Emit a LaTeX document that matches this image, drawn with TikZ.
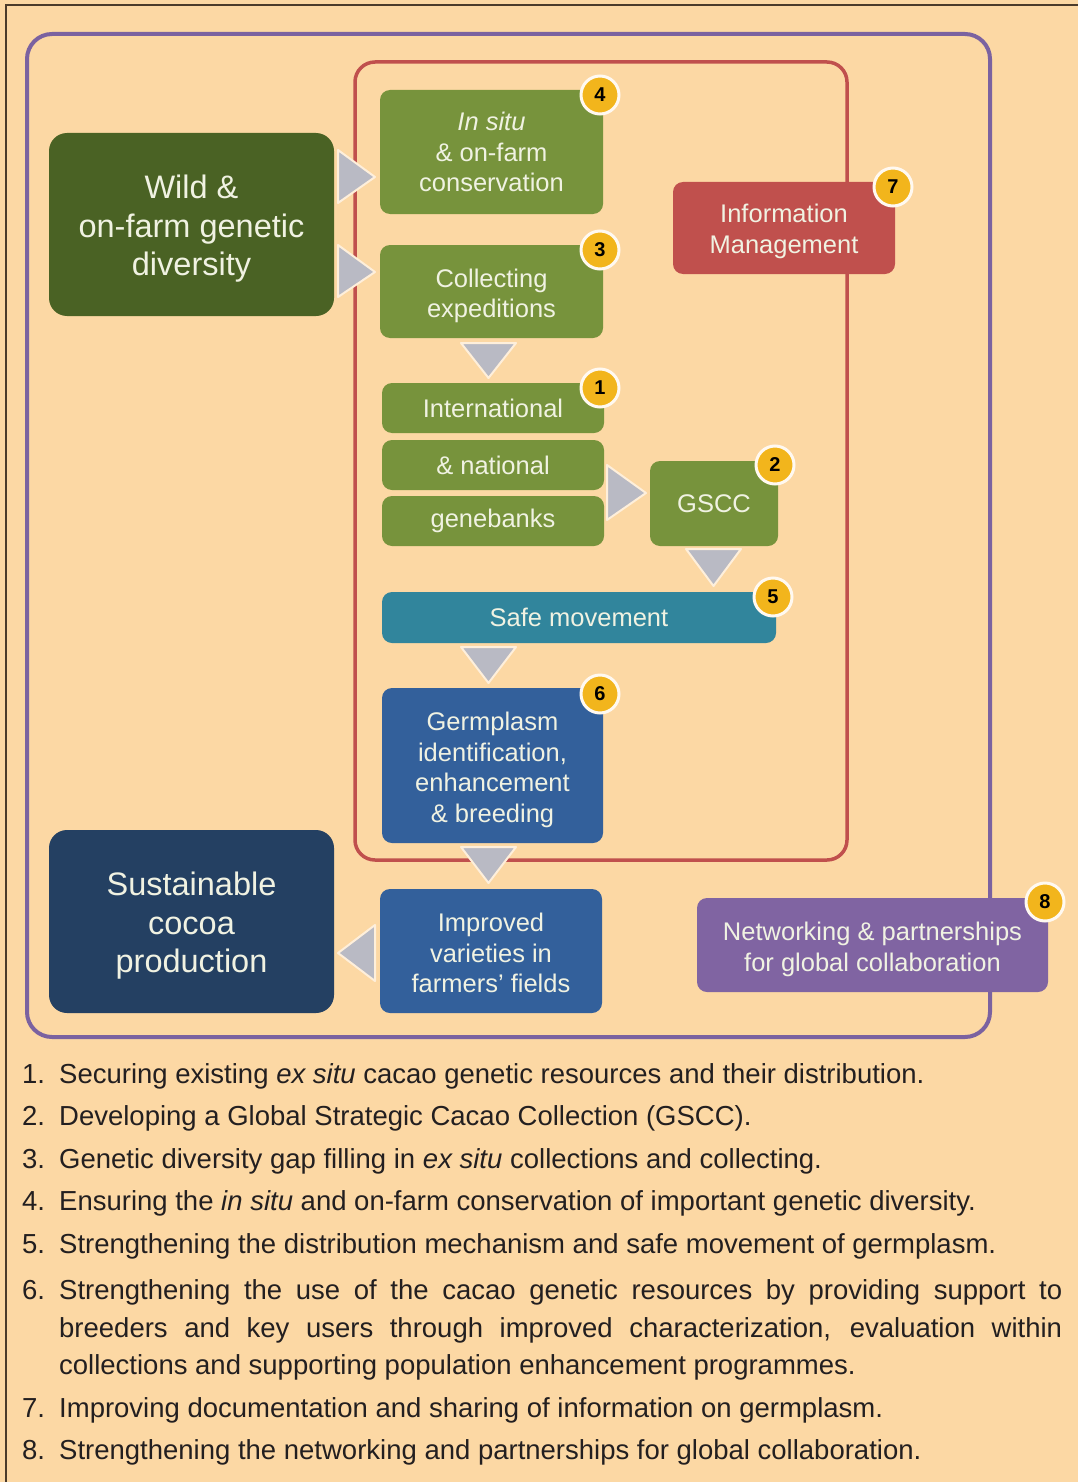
\documentclass[tikz,border=0pt]{standalone}
\usepackage{fontspec}
\setmainfont{Liberation Sans}
\usetikzlibrary{calc}
\definecolor{bg}{HTML}{FCD8A4}
\definecolor{frameline}{HTML}{4B3B2B}
\definecolor{purpleframe}{HTML}{7B62A0}
\definecolor{redframe}{HTML}{C0504D}
\definecolor{darkgreen}{HTML}{4A6224}
\definecolor{olive}{HTML}{77933C}
\definecolor{infored}{HTML}{C0504D}
\definecolor{teal}{HTML}{31859C}
\definecolor{midblue}{HTML}{33609B}
\definecolor{navy}{HTML}{244062}
\definecolor{netpurple}{HTML}{8064A2}
\definecolor{boxtext}{HTML}{F0F2E2}
\definecolor{trigray}{HTML}{B9BAC4}
\definecolor{badgeyellow}{HTML}{F2B51C}
\definecolor{listtext}{HTML}{231F20}
\newcommand\boxstrut[1]{\rule{0pt}{#1pt}}
\begin{document}
\begin{tikzpicture}[x=1pt,y=-1pt,
  box/.style={rounded corners=10pt, inner sep=0pt, align=center, text=boxtext,
    font=\fontsize{25.5}{30.5}\selectfont},
  bigbox/.style={box, rounded corners=18pt, font=\fontsize{32.5}{38.5}\selectfont},
  tri/.style={fill=trigray, draw=white!60!bg, line width=2pt, line join=round},
  badge/.style={circle, fill=badgeyellow, draw=white!85!bg, line width=3pt,
    minimum size=38pt, inner sep=0pt, font=\fontsize{20}{20}\selectfont\bfseries, text=black},
  item/.style={anchor=base west, inner sep=0pt, text=listtext, font=\fontsize{27.5}{32}\selectfont},
  frame/.style={rounded corners=25pt, line width=4pt}
]
\useasboundingbox (0,0) rectangle (1078,1482);
\fill[bg] (0,0) rectangle (1078,1482);
% outer thin frame (top and left)
\draw[frameline, line width=2pt] (6,1482) -- (6,5) -- (1078,5);

% frames
\draw[frame, purpleframe] (27,34) rectangle (990,1037);
\draw[frame, redframe, line width=3.5pt, rounded corners=20pt] (355,62) rectangle (847,860);

% boxes
\node[bigbox, fill=darkgreen, minimum width=285pt, minimum height=183pt] (wild) at (191.5,224.5) {\boxstrut{32}Wild \&\\on-farm genetic\\diversity};
\node[bigbox, fill=navy, minimum width=285pt, minimum height=183pt] (sust) at (191.5,921.5) {\boxstrut{32}Sustainable\\cocoa\\production};
\node[box, fill=olive, minimum width=223pt, minimum height=124pt] (insitu) at (491.5,152) {\textit{In situ}\\\& on-farm\\conservation};
\node[box, fill=olive, minimum width=223pt, minimum height=93pt] (coll) at (491.5,291.5) {\boxstrut{27}Collecting\\expeditions};
\node[box, fill=olive, minimum width=222pt, minimum height=50pt] (intl) at (493,408) {International};
\node[box, fill=olive, minimum width=222pt, minimum height=50pt] (natl) at (493,465) {\& national};
\node[box, fill=olive, minimum width=222pt, minimum height=50pt] (gene) at (493,521) {genebanks};
\node[box, fill=olive, minimum width=128pt, minimum height=85pt] (gscc) at (714,503.5) {GSCC};
\node[box, fill=teal, minimum width=394pt, minimum height=51pt] (safe) at (579,617.5) {Safe movement};
\node[box, fill=midblue, minimum width=221pt, minimum height=155pt] (germ) at (492.5,765.5) {\boxstrut{27}Germplasm\\identification,\\enhancement\\\& breeding};
\node[box, fill=midblue, minimum width=222pt, minimum height=124pt] (impr) at (491,951) {\boxstrut{23}Improved\\varieties in\\farmers' fields};
\node[box, fill=infored, minimum width=222pt, minimum height=92pt] (info) at (784,228) {\boxstrut{25}Information\\Management};
\node[box, fill=netpurple, minimum width=351pt, minimum height=94pt] (netw) at (872.5,945) {\boxstrut{27}Networking \& partnerships\\for global collaboration};

% triangles (flow markers)
\filldraw[tri] (338,150) -- (375,177) -- (338,203) -- cycle;
\filldraw[tri] (338,245) -- (375,272) -- (338,297) -- cycle;
\filldraw[tri] (461,343) -- (516,343) -- (488.5,378) -- cycle;
\filldraw[tri] (607,465) -- (646,493) -- (607,520) -- cycle;
\filldraw[tri] (686,549) -- (741,549) -- (713.5,586) -- cycle;
\filldraw[tri] (461,647) -- (516,647) -- (488.5,683) -- cycle;
\filldraw[tri] (461,847) -- (516,847) -- (488.5,883) -- cycle;
\filldraw[tri] (375,925) -- (338,953) -- (375,981) -- cycle;

% badges
\node[badge] (b4) at (600,95) {4};
\node[badge] (b3) at (600,250) {3};
\node[badge] (b1) at (600,388) {1};
\node[badge] (b2) at (775,465) {2};
\node[badge] (b5) at (773,597) {5};
\node[badge] (b6) at (600,694) {6};
\node[badge] (b7) at (893,187) {7};
\node[badge] (b8) at (1045,902) {8};

% list
\node[item] (n1) at (22,1083) {1.};
\node[item] (t1) at (59,1083) {Securing existing \textit{ex situ} cacao genetic resources and their distribution.};
\node[item] (n2) at (22,1125.5) {2.};
\node[item] (t2) at (59,1125.5) {Developing a Global Strategic Cacao Collection (GSCC).};
\node[item] (n3) at (22,1168) {3.};
\node[item] (t3) at (59,1168) {Genetic diversity gap filling in \textit{ex situ} collections and collecting.};
\node[item] (n4) at (22,1210.5) {4.};
\node[item] (t4) at (59,1210.5) {Ensuring the \textit{in situ} and on-farm conservation of important genetic diversity.};
\node[item] (n5) at (22,1253) {5.};
\node[item] (t5) at (59,1253) {Strengthening the distribution mechanism and safe movement of germplasm.};
\node[item] (n6) at (22,1299.5) {6.};
\node[item] (t6a) at (59,1299.5) {\makebox[1003pt][s]{Strengthening the use of the cacao genetic resources by providing support to}};
\node[item] (t6b) at (59,1337) {\makebox[1003pt][s]{breeders and key users through improved characterization, evaluation within}};
\node[item] (t6c) at (59,1374.5) {collections and supporting population enhancement programmes.};
\node[item] (n7) at (22,1417) {7.};
\node[item] (t7) at (59,1417) {Improving documentation and sharing of information on germplasm.};
\node[item] (n8) at (22,1459.5) {8.};
\node[item] (t8) at (59,1459.5) {Strengthening the networking and partnerships for global collaboration.};
\end{tikzpicture}
\end{document}
